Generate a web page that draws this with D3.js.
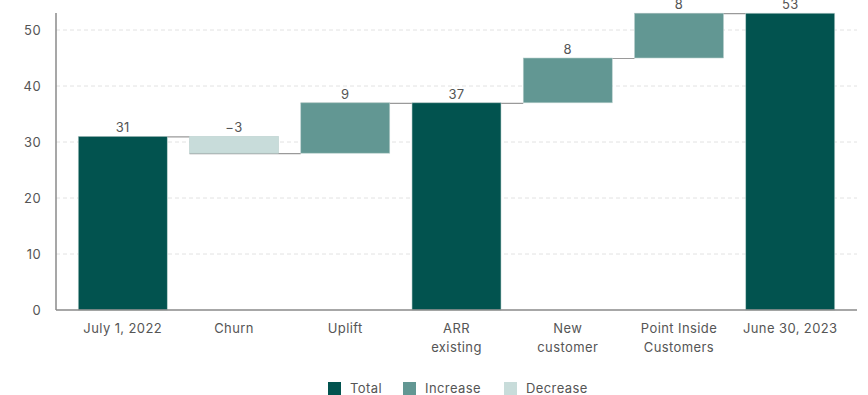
<!DOCTYPE html>
<html>
<head>
<meta charset="utf-8">
<script src="https://cdn.jsdelivr.net/npm/d3@7"></script>
<style>
body{margin:0;background:#fff;}
text{font-family:Inter,"Noto Sans",sans-serif;letter-spacing:0.4px;}
</style>
</head>
<body>
<div id="chart"></div>
<script>
(function(){

const categories = ["July 1, 2022","Churn","Uplift","ARR\nexisting","New\ncustomer","Point Inside\nCustomers","June 30, 2023"];
const values = [31,-3,9,37,8,8,53];
const kinds = ["total","decrease","increase","total","increase","increase","total"];
const yTicks = [0,10,20,30,40,50];
const legendItems = ["Total","Increase","Decrease"];

const width = 868;
const height = 395;

const color = {total:"#02534f", increase:"#629793", decrease:"#c8dcda"};
const legendKey = {Total:"total", Increase:"increase", Decrease:"decrease"};

// running start / end for each step
let run = 0;
const steps = values.map((v,i)=>{
  let start, end;
  if(kinds[i]==="total"){ start = 0; end = v; run = v; }
  else { start = run; end = run + v; run = end; }
  return {cat:categories[i], value:v, kind:kinds[i], start, end, i};
});

const svg = d3.select("#chart")
.append("svg")
.attr("width",width)
.attr("height",height);

const x = d3.scaleBand()
.domain(categories)
.range([56,857])
.paddingInner(0.2)
.paddingOuter(0.2);

const y = d3.scaleLinear()
.domain([0,50])
.range([310,30]);

// grid
svg.append("g")
.selectAll("line")
.data(yTicks.filter(d=>d>0))
.enter()
.append("line")
.attr("x1",56)
.attr("x2",857)
.attr("y1",d=>y(d))
.attr("y2",d=>y(d))
.attr("stroke","#e2e2e2")
.attr("stroke-dasharray","4,3");

// y tick labels
svg.append("g")
.selectAll("text")
.data(yTicks)
.enter()
.append("text")
.attr("x",41)
.attr("y",d=>y(d)+5)
.attr("text-anchor","end")
.attr("font-size","13px")
.attr("fill","#555")
.text(d=>d);

// connectors
svg.append("g")
.selectAll("line")
.data(steps.slice(0,-1))
.enter()
.append("line")
.attr("x1",d=>x(d.cat))
.attr("x2",d=>x(categories[d.i+1]))
.attr("y1",d=>y(d.end)+0.5)
.attr("y2",d=>y(d.end)+0.5)
.attr("stroke","#9a9a9a")
.attr("stroke-width",1.2);

// bars
svg.append("g")
.selectAll("rect")
.data(steps)
.enter()
.append("rect")
.attr("x",d=>x(d.cat))
.attr("width",x.bandwidth())
.attr("y",d=>y(Math.max(d.start,d.end)))
.attr("height",d=>Math.abs(y(d.start)-y(d.end)))
.attr("fill",d=>color[d.kind])
.attr("stroke","#b9cfcd")
.attr("stroke-width",0.6);

// value labels
svg.append("g")
.selectAll("text")
.data(steps)
.enter()
.append("text")
.attr("x",d=>x(d.cat)+x.bandwidth()/2)
.attr("y",d=>y(Math.max(d.start,d.end))-4)
.attr("text-anchor","middle")
.attr("font-size","13px")
.attr("fill","#555")
.text(d=>d.value<0 ? "\u2212"+Math.abs(d.value) : d.value);

// axes lines
svg.append("line")
.attr("x1",56).attr("x2",56)
.attr("y1",13).attr("y2",310)
.attr("stroke","#8a8a8a").attr("stroke-width",1.5);

svg.append("line")
.attr("x1",56).attr("x2",857)
.attr("y1",310).attr("y2",310)
.attr("stroke","#8a8a8a").attr("stroke-width",1.5);

// category labels
const cat = svg.append("g")
.selectAll("text")
.data(categories)
.enter()
.append("text")
.attr("x",d=>x(d)+x.bandwidth()/2)
.attr("y",333)
.attr("text-anchor","middle")
.attr("font-size","13px")
.attr("fill","#555");

cat.selectAll("tspan")
.data(d=>d.split("\n"))
.enter()
.append("tspan")
.attr("x",function(){ return d3.select(this.parentNode).attr("x"); })
.attr("dy",(d,i)=>i===0?0:19)
.text(d=>d);

// legend
const legendX = [328,403,504];
const legend = svg.append("g");

legend.selectAll("rect")
.data(legendItems)
.enter()
.append("rect")
.attr("x",(d,i)=>legendX[i])
.attr("y",382)
.attr("width",13)
.attr("height",13)
.attr("fill",d=>color[legendKey[d]]);

legend.selectAll("text")
.data(legendItems)
.enter()
.append("text")
.attr("x",(d,i)=>legendX[i]+22)
.attr("y",393)
.attr("font-size","13px")
.attr("fill","#555")
.text(d=>d);

})();
</script>
</body>
</html>
